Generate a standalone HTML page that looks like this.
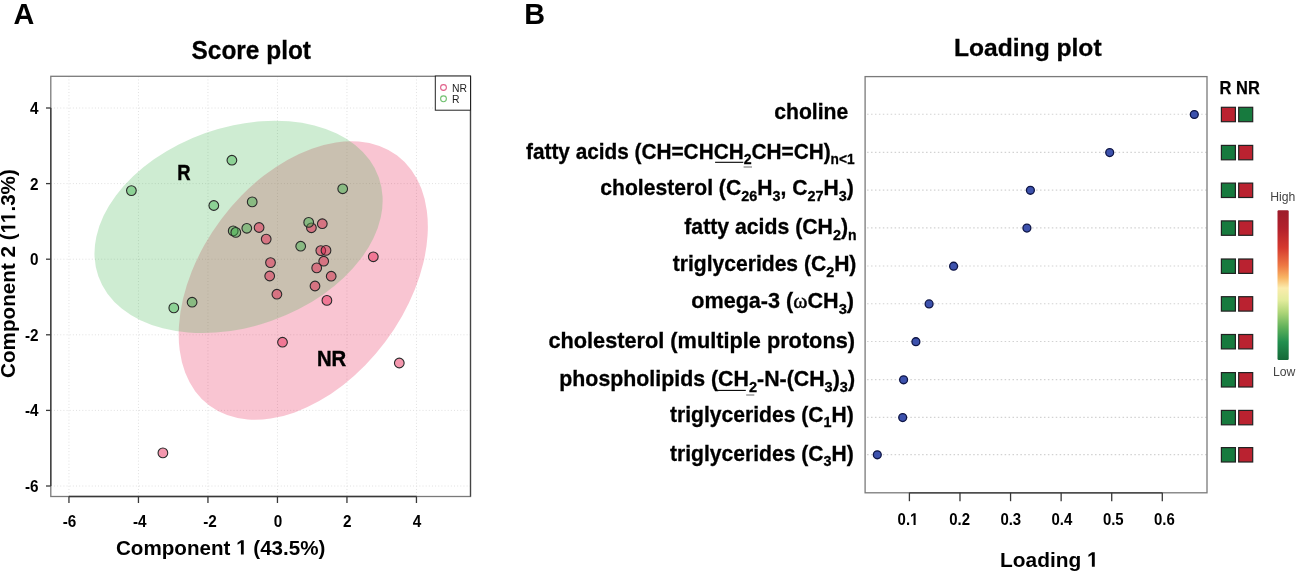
<!DOCTYPE html>
<html><head><meta charset="utf-8"><style>
html,body{margin:0;padding:0;background:#fff;width:1299px;height:572px;overflow:hidden;}
svg{display:block;font-family:"Liberation Sans",sans-serif;will-change:transform;}
</style></head><body>
<svg width="1299" height="572" viewBox="0 0 1299 572"><rect width="1299" height="572" fill="#fff"/>
<line x1="68.95" y1="76.3" x2="68.95" y2="496.5" stroke="#e0e0e0" stroke-width="1" stroke-dasharray="1 2.15"/>
<line x1="50.8" y1="486.00" x2="470.5" y2="486.00" stroke="#e0e0e0" stroke-width="1" stroke-dasharray="1 2.15"/>
<line x1="138.45" y1="76.3" x2="138.45" y2="496.5" stroke="#e0e0e0" stroke-width="1" stroke-dasharray="1 2.15"/>
<line x1="50.8" y1="410.40" x2="470.5" y2="410.40" stroke="#e0e0e0" stroke-width="1" stroke-dasharray="1 2.15"/>
<line x1="207.95" y1="76.3" x2="207.95" y2="496.5" stroke="#e0e0e0" stroke-width="1" stroke-dasharray="1 2.15"/>
<line x1="50.8" y1="334.80" x2="470.5" y2="334.80" stroke="#e0e0e0" stroke-width="1" stroke-dasharray="1 2.15"/>
<line x1="277.45" y1="76.3" x2="277.45" y2="496.5" stroke="#e0e0e0" stroke-width="1" stroke-dasharray="1 2.15"/>
<line x1="50.8" y1="259.20" x2="470.5" y2="259.20" stroke="#e0e0e0" stroke-width="1" stroke-dasharray="1 2.15"/>
<line x1="346.95" y1="76.3" x2="346.95" y2="496.5" stroke="#e0e0e0" stroke-width="1" stroke-dasharray="1 2.15"/>
<line x1="50.8" y1="183.60" x2="470.5" y2="183.60" stroke="#e0e0e0" stroke-width="1" stroke-dasharray="1 2.15"/>
<line x1="416.45" y1="76.3" x2="416.45" y2="496.5" stroke="#e0e0e0" stroke-width="1" stroke-dasharray="1 2.15"/>
<line x1="50.8" y1="108.00" x2="470.5" y2="108.00" stroke="#e0e0e0" stroke-width="1" stroke-dasharray="1 2.15"/>
<ellipse cx="303.26" cy="280.51" rx="156.37" ry="102.37" transform="rotate(-53.08 303.26 280.51)" fill="rgba(230,25,75,0.25)"/>
<ellipse cx="238.57" cy="226.9" rx="148.69" ry="99.57" transform="rotate(-19.42 238.57 226.9)" fill="rgba(60,180,75,0.25)"/>
<text x="177.2" y="179.8" font-family="Liberation Sans" font-weight="bold" font-size="22" stroke="#000" stroke-width="0.4" textLength="13.3" lengthAdjust="spacingAndGlyphs">R</text>
<text x="316.9" y="365.7" font-family="Liberation Sans" font-weight="bold" font-size="22" stroke="#000" stroke-width="0.4" textLength="29.3" lengthAdjust="spacingAndGlyphs">NR</text>
<circle cx="259.1" cy="227.5" r="4.85" fill="rgba(230,25,75,0.45)" stroke="#2a2a2a" stroke-width="1.1"/>
<circle cx="266.2" cy="239.1" r="4.85" fill="rgba(230,25,75,0.45)" stroke="#2a2a2a" stroke-width="1.1"/>
<circle cx="311.4" cy="227.8" r="4.85" fill="rgba(230,25,75,0.45)" stroke="#2a2a2a" stroke-width="1.1"/>
<circle cx="322.3" cy="223.7" r="4.85" fill="rgba(230,25,75,0.45)" stroke="#2a2a2a" stroke-width="1.1"/>
<circle cx="320.8" cy="250.6" r="4.85" fill="rgba(230,25,75,0.45)" stroke="#2a2a2a" stroke-width="1.1"/>
<circle cx="326" cy="250.4" r="4.85" fill="rgba(230,25,75,0.45)" stroke="#2a2a2a" stroke-width="1.1"/>
<circle cx="270.5" cy="262.6" r="4.85" fill="rgba(230,25,75,0.45)" stroke="#2a2a2a" stroke-width="1.1"/>
<circle cx="323.7" cy="261.2" r="4.85" fill="rgba(230,25,75,0.45)" stroke="#2a2a2a" stroke-width="1.1"/>
<circle cx="316.7" cy="267.9" r="4.85" fill="rgba(230,25,75,0.45)" stroke="#2a2a2a" stroke-width="1.1"/>
<circle cx="269.7" cy="276" r="4.85" fill="rgba(230,25,75,0.45)" stroke="#2a2a2a" stroke-width="1.1"/>
<circle cx="331.2" cy="276.2" r="4.85" fill="rgba(230,25,75,0.45)" stroke="#2a2a2a" stroke-width="1.1"/>
<circle cx="315" cy="286" r="4.85" fill="rgba(230,25,75,0.45)" stroke="#2a2a2a" stroke-width="1.1"/>
<circle cx="276.9" cy="294.2" r="4.85" fill="rgba(230,25,75,0.45)" stroke="#2a2a2a" stroke-width="1.1"/>
<circle cx="326.9" cy="300.4" r="4.85" fill="rgba(230,25,75,0.45)" stroke="#2a2a2a" stroke-width="1.1"/>
<circle cx="373.3" cy="256.8" r="4.85" fill="rgba(230,25,75,0.45)" stroke="#2a2a2a" stroke-width="1.1"/>
<circle cx="282.5" cy="342.2" r="4.85" fill="rgba(230,25,75,0.45)" stroke="#2a2a2a" stroke-width="1.1"/>
<circle cx="399.3" cy="363" r="4.85" fill="rgba(230,25,75,0.45)" stroke="#2a2a2a" stroke-width="1.1"/>
<circle cx="162.9" cy="452.9" r="4.85" fill="rgba(230,25,75,0.45)" stroke="#2a2a2a" stroke-width="1.1"/>
<circle cx="131.4" cy="190.6" r="4.85" fill="rgba(60,180,75,0.45)" stroke="#2a2a2a" stroke-width="1.1"/>
<circle cx="231.9" cy="160.2" r="4.85" fill="rgba(60,180,75,0.45)" stroke="#2a2a2a" stroke-width="1.1"/>
<circle cx="213.8" cy="205.5" r="4.85" fill="rgba(60,180,75,0.45)" stroke="#2a2a2a" stroke-width="1.1"/>
<circle cx="252.2" cy="201.9" r="4.85" fill="rgba(60,180,75,0.45)" stroke="#2a2a2a" stroke-width="1.1"/>
<circle cx="233.2" cy="230.9" r="4.85" fill="rgba(60,180,75,0.45)" stroke="#2a2a2a" stroke-width="1.1"/>
<circle cx="235.8" cy="232.4" r="4.85" fill="rgba(60,180,75,0.45)" stroke="#2a2a2a" stroke-width="1.1"/>
<circle cx="246.8" cy="228.3" r="4.85" fill="rgba(60,180,75,0.45)" stroke="#2a2a2a" stroke-width="1.1"/>
<circle cx="308.7" cy="222.4" r="4.85" fill="rgba(60,180,75,0.45)" stroke="#2a2a2a" stroke-width="1.1"/>
<circle cx="300.7" cy="246.2" r="4.85" fill="rgba(60,180,75,0.45)" stroke="#2a2a2a" stroke-width="1.1"/>
<circle cx="342.7" cy="188.8" r="4.85" fill="rgba(60,180,75,0.45)" stroke="#2a2a2a" stroke-width="1.1"/>
<circle cx="173.8" cy="307.9" r="4.85" fill="rgba(60,180,75,0.45)" stroke="#2a2a2a" stroke-width="1.1"/>
<circle cx="192.1" cy="302.2" r="4.85" fill="rgba(60,180,75,0.45)" stroke="#2a2a2a" stroke-width="1.1"/>
<rect x="50.8" y="76.3" width="419.70" height="420.20" fill="none" stroke="#7a7a7a" stroke-width="1.3"/>
<line x1="470.5" y1="76.3" x2="470.5" y2="496.5" stroke="#444" stroke-width="1.2"/>
<line x1="68.95" y1="496.5" x2="416.45" y2="496.5" stroke="#383838" stroke-width="1.3"/>
<line x1="50.8" y1="486.00" x2="50.8" y2="108.00" stroke="#383838" stroke-width="1.3"/>
<line x1="68.95" y1="496.5" x2="68.95" y2="503" stroke="#383838" stroke-width="1.3"/>
<line x1="46" y1="486.00" x2="50.8" y2="486.00" stroke="#383838" stroke-width="1.3"/>
<text transform="translate(69.45,526.6) scale(0.9,1)" text-anchor="middle" font-family="Liberation Sans" font-weight="bold" font-size="17">-6</text>
<text transform="translate(38.5,492.00) scale(0.9,1)" text-anchor="end" font-family="Liberation Sans" font-weight="bold" font-size="17">-6</text>
<line x1="138.45" y1="496.5" x2="138.45" y2="503" stroke="#383838" stroke-width="1.3"/>
<line x1="46" y1="410.40" x2="50.8" y2="410.40" stroke="#383838" stroke-width="1.3"/>
<text transform="translate(139.75,526.6) scale(0.9,1)" text-anchor="middle" font-family="Liberation Sans" font-weight="bold" font-size="17">-4</text>
<text transform="translate(38.5,416.40) scale(0.9,1)" text-anchor="end" font-family="Liberation Sans" font-weight="bold" font-size="17">-4</text>
<line x1="207.95" y1="496.5" x2="207.95" y2="503" stroke="#383838" stroke-width="1.3"/>
<line x1="46" y1="334.80" x2="50.8" y2="334.80" stroke="#383838" stroke-width="1.3"/>
<text transform="translate(210.05,526.6) scale(0.9,1)" text-anchor="middle" font-family="Liberation Sans" font-weight="bold" font-size="17">-2</text>
<text transform="translate(38.5,340.80) scale(0.9,1)" text-anchor="end" font-family="Liberation Sans" font-weight="bold" font-size="17">-2</text>
<line x1="277.45" y1="496.5" x2="277.45" y2="503" stroke="#383838" stroke-width="1.3"/>
<line x1="46" y1="259.20" x2="50.8" y2="259.20" stroke="#383838" stroke-width="1.3"/>
<text transform="translate(277.95,526.6) scale(0.9,1)" text-anchor="middle" font-family="Liberation Sans" font-weight="bold" font-size="17">0</text>
<text transform="translate(38.5,265.20) scale(0.9,1)" text-anchor="end" font-family="Liberation Sans" font-weight="bold" font-size="17">0</text>
<line x1="346.95" y1="496.5" x2="346.95" y2="503" stroke="#383838" stroke-width="1.3"/>
<line x1="46" y1="183.60" x2="50.8" y2="183.60" stroke="#383838" stroke-width="1.3"/>
<text transform="translate(347.30,526.6) scale(0.9,1)" text-anchor="middle" font-family="Liberation Sans" font-weight="bold" font-size="17">2</text>
<text transform="translate(38.5,189.60) scale(0.9,1)" text-anchor="end" font-family="Liberation Sans" font-weight="bold" font-size="17">2</text>
<line x1="416.45" y1="496.5" x2="416.45" y2="503" stroke="#383838" stroke-width="1.3"/>
<line x1="46" y1="108.00" x2="50.8" y2="108.00" stroke="#383838" stroke-width="1.3"/>
<text transform="translate(416.95,526.6) scale(0.9,1)" text-anchor="middle" font-family="Liberation Sans" font-weight="bold" font-size="17">4</text>
<text transform="translate(38.5,114.00) scale(0.9,1)" text-anchor="end" font-family="Liberation Sans" font-weight="bold" font-size="17">4</text>
<rect x="435.3" y="76" width="35.2" height="34.2" fill="#fff" stroke="#222" stroke-width="1"/>
<circle cx="443.5" cy="87.5" r="2.9" fill="none" stroke="#e0608a" stroke-width="1.1"/>
<circle cx="443.5" cy="98.8" r="2.9" fill="none" stroke="#70c070" stroke-width="1.1"/>
<text x="452" y="91.6" font-family="Liberation Sans" font-size="10.4" fill="#222">NR</text>
<text x="452" y="102.9" font-family="Liberation Sans" font-size="10.4" fill="#222">R</text>
<text x="13.6" y="24" font-family="Liberation Sans" font-weight="bold" font-size="28.8">A</text>
<text x="524.3" y="24" font-family="Liberation Sans" font-weight="bold" font-size="28.8">B</text>
<text x="191.5" y="59.1" font-family="Liberation Sans" font-weight="bold" font-size="25.5" stroke="#000" stroke-width="0.3" textLength="119.5" lengthAdjust="spacingAndGlyphs">Score plot</text>
<text x="954" y="55.5" font-family="Liberation Sans" font-weight="bold" font-size="24.6" stroke="#000" stroke-width="0.3" textLength="147.6" lengthAdjust="spacingAndGlyphs">Loading plot</text>
<g><text id="xlab" x="116" y="554.5" text-anchor="start" font-family="Liberation Sans" font-weight="bold" font-size="20.6">Component 1 (43.5%)</text><rect x="236.21" y="539.53" width="11.99" height="15.97" fill="#fff"/><path d="M240.92,554.50 L243.74,554.50 L243.74,540.33 L241.07,540.33 L237.52,542.63 L237.52,544.85 L240.92,542.73 Z" fill="#000"/></g>
<g transform="translate(15.3,377.9) rotate(-90)"><text id="ylab" x="0" y="0" text-anchor="start" font-family="Liberation Sans" font-weight="bold" font-size="20.65">Component 2 (11.3%)</text><rect x="144.57" y="-15.01" width="12.01" height="16.01" fill="#fff"/><path d="M149.29,0.00 L152.12,0.00 L152.12,-14.21 L149.44,-14.21 L145.88,-11.90 L145.88,-9.67 L149.29,-11.80 Z" fill="#000"/><rect x="154.91" y="-15.01" width="12.01" height="16.01" fill="#fff"/><path d="M159.63,0.00 L162.47,0.00 L162.47,-14.21 L159.78,-14.21 L156.22,-11.90 L156.22,-9.67 L159.63,-11.80 Z" fill="#000"/></g>
<line x1="867.1" y1="114.3" x2="1207.0" y2="114.3" stroke="#d2d2d2" stroke-width="1.1" stroke-dasharray="1.5 2.43"/>
<line x1="867.1" y1="152.4" x2="1207.0" y2="152.4" stroke="#d2d2d2" stroke-width="1.1" stroke-dasharray="1.5 2.43"/>
<line x1="867.1" y1="190.1" x2="1207.0" y2="190.1" stroke="#d2d2d2" stroke-width="1.1" stroke-dasharray="1.5 2.43"/>
<line x1="867.1" y1="227.9" x2="1207.0" y2="227.9" stroke="#d2d2d2" stroke-width="1.1" stroke-dasharray="1.5 2.43"/>
<line x1="867.1" y1="266.0" x2="1207.0" y2="266.0" stroke="#d2d2d2" stroke-width="1.1" stroke-dasharray="1.5 2.43"/>
<line x1="867.1" y1="303.7" x2="1207.0" y2="303.7" stroke="#d2d2d2" stroke-width="1.1" stroke-dasharray="1.5 2.43"/>
<line x1="867.1" y1="341.5" x2="1207.0" y2="341.5" stroke="#d2d2d2" stroke-width="1.1" stroke-dasharray="1.5 2.43"/>
<line x1="867.1" y1="379.6" x2="1207.0" y2="379.6" stroke="#d2d2d2" stroke-width="1.1" stroke-dasharray="1.5 2.43"/>
<line x1="867.1" y1="417.4" x2="1207.0" y2="417.4" stroke="#d2d2d2" stroke-width="1.1" stroke-dasharray="1.5 2.43"/>
<line x1="867.1" y1="454.6" x2="1207.0" y2="454.6" stroke="#d2d2d2" stroke-width="1.1" stroke-dasharray="1.5 2.43"/>
<rect x="865.1" y="76.6" width="341.90" height="416.20" fill="none" stroke="#7a7a7a" stroke-width="1.3"/>
<line x1="909.40" y1="492.8" x2="1162.30" y2="492.8" stroke="#383838" stroke-width="1.3"/>
<line x1="909.40" y1="492.8" x2="909.40" y2="501.2" stroke="#383838" stroke-width="1.3"/>
<g transform="translate(908.00,524.9) scale(0.88,1)"><text id="lt1" x="0" y="0" text-anchor="middle" font-family="Liberation Sans" font-weight="bold" font-size="17">0.1</text><rect x="2.23" y="-12.50" width="10.31" height="13.50" fill="#fff"/><path d="M6.32,0.00 L8.66,0.00 L8.66,-11.70 L6.45,-11.70 L3.52,-9.79 L3.52,-7.96 L6.32,-9.71 Z" fill="#000"/></g>
<line x1="959.98" y1="492.8" x2="959.98" y2="501.2" stroke="#383838" stroke-width="1.3"/>
<g transform="translate(959.60,524.9) scale(0.88,1)"><text id="lt2" x="0" y="0" text-anchor="middle" font-family="Liberation Sans" font-weight="bold" font-size="17">0.2</text></g>
<line x1="1010.56" y1="492.8" x2="1010.56" y2="501.2" stroke="#383838" stroke-width="1.3"/>
<g transform="translate(1010.80,524.9) scale(0.88,1)"><text id="lt3" x="0" y="0" text-anchor="middle" font-family="Liberation Sans" font-weight="bold" font-size="17">0.3</text></g>
<line x1="1061.14" y1="492.8" x2="1061.14" y2="501.2" stroke="#383838" stroke-width="1.3"/>
<g transform="translate(1061.90,524.9) scale(0.88,1)"><text id="lt4" x="0" y="0" text-anchor="middle" font-family="Liberation Sans" font-weight="bold" font-size="17">0.4</text></g>
<line x1="1111.72" y1="492.8" x2="1111.72" y2="501.2" stroke="#383838" stroke-width="1.3"/>
<g transform="translate(1113.30,524.9) scale(0.88,1)"><text id="lt5" x="0" y="0" text-anchor="middle" font-family="Liberation Sans" font-weight="bold" font-size="17">0.5</text></g>
<line x1="1162.30" y1="492.8" x2="1162.30" y2="501.2" stroke="#383838" stroke-width="1.3"/>
<g transform="translate(1164.40,524.9) scale(0.88,1)"><text id="lt6" x="0" y="0" text-anchor="middle" font-family="Liberation Sans" font-weight="bold" font-size="17">0.6</text></g>
<circle cx="1194.3" cy="114.5" r="3.95" fill="#3d52ad" stroke="#0e1545" stroke-width="1.3"/>
<circle cx="1109.7" cy="152.6" r="3.95" fill="#3d52ad" stroke="#0e1545" stroke-width="1.3"/>
<circle cx="1030.4" cy="190.3" r="3.95" fill="#3d52ad" stroke="#0e1545" stroke-width="1.3"/>
<circle cx="1026.9" cy="228.1" r="3.95" fill="#3d52ad" stroke="#0e1545" stroke-width="1.3"/>
<circle cx="953.6" cy="266.2" r="3.95" fill="#3d52ad" stroke="#0e1545" stroke-width="1.3"/>
<circle cx="929.1" cy="303.9" r="3.95" fill="#3d52ad" stroke="#0e1545" stroke-width="1.3"/>
<circle cx="915.9" cy="341.7" r="3.95" fill="#3d52ad" stroke="#0e1545" stroke-width="1.3"/>
<circle cx="903.6" cy="379.8" r="3.95" fill="#3d52ad" stroke="#0e1545" stroke-width="1.3"/>
<circle cx="902.7" cy="417.6" r="3.95" fill="#3d52ad" stroke="#0e1545" stroke-width="1.3"/>
<circle cx="877.3" cy="454.8" r="3.95" fill="#3d52ad" stroke="#0e1545" stroke-width="1.3"/>
<g><text id="load1" x="1000.0" y="566.7" text-anchor="start" font-family="Liberation Sans" font-weight="bold" font-size="20.9">Loading 1</text><rect x="1087.13" y="551.52" width="12.13" height="16.18" fill="#fff"/><path d="M1091.89,566.70 L1094.76,566.70 L1094.76,552.32 L1092.05,552.32 L1088.44,554.66 L1088.44,556.91 L1091.89,554.76 Z" fill="#000"/></g>
<text x="774.2" y="119.3" font-family="Liberation Sans" font-weight="bold" font-size="22" stroke="#000" stroke-width="0.3" textLength="74.1" lengthAdjust="spacingAndGlyphs">choline</text>
<text x="526.0" y="158.6" font-family="Liberation Sans" font-weight="bold" font-size="22" stroke="#000" stroke-width="0.3" textLength="328.6" lengthAdjust="spacingAndGlyphs">fatty acids (CH=CHCH<tspan dy="5.6" font-size="15">2</tspan><tspan dy="-5.6">CH=CH)<tspan dy="5" font-size="14.5">n&lt;1</tspan></text>
<text x="600.3" y="195.4" font-family="Liberation Sans" font-weight="bold" font-size="22" stroke="#000" stroke-width="0.3" textLength="253.5" lengthAdjust="spacingAndGlyphs">cholesterol (C<tspan dy="5.6" font-size="15">26</tspan><tspan dy="-5.6">H<tspan dy="5.6" font-size="15">3</tspan><tspan dy="-5.6">, C<tspan dy="5.6" font-size="15">27</tspan><tspan dy="-5.6">H<tspan dy="5.6" font-size="15">3</tspan><tspan dy="-5.6">)</text>
<text x="684.3" y="234.2" font-family="Liberation Sans" font-weight="bold" font-size="22" stroke="#000" stroke-width="0.3" textLength="172.3" lengthAdjust="spacingAndGlyphs">fatty acids (CH<tspan dy="5.6" font-size="15">2</tspan><tspan dy="-5.6">)<tspan dy="5.6" font-size="14.5">n</tspan></text>
<text x="672.8" y="271.0" font-family="Liberation Sans" font-weight="bold" font-size="22" stroke="#000" stroke-width="0.3" textLength="183.6" lengthAdjust="spacingAndGlyphs">triglycerides (C<tspan dy="5.6" font-size="15">2</tspan><tspan dy="-5.6">H)</text>
<text x="691.3" y="308.2" font-family="Liberation Sans" font-weight="bold" font-size="22" stroke="#000" stroke-width="0.3" textLength="162.7" lengthAdjust="spacingAndGlyphs">omega-3 (<tspan font-family="Liberation Serif" font-weight="normal" stroke-width="0.5">ω</tspan>CH<tspan dy="5.6" font-size="15">3</tspan><tspan dy="-5.6">)</text>
<text x="548.4" y="347.9" font-family="Liberation Sans" font-weight="bold" font-size="22" stroke="#000" stroke-width="0.3" textLength="306.6" lengthAdjust="spacingAndGlyphs">cholesterol (multiple protons)</text>
<text x="559.3" y="386.0" font-family="Liberation Sans" font-weight="bold" font-size="22" stroke="#000" stroke-width="0.3" textLength="295.7" lengthAdjust="spacingAndGlyphs">phospholipids (CH<tspan dy="5.6" font-size="15">2</tspan><tspan dy="-5.6">-N-(CH<tspan dy="5.6" font-size="15">3</tspan><tspan dy="-5.6">)<tspan dy="5.6" font-size="15">3</tspan><tspan dy="-5.6">)</text>
<text x="670.0" y="421.7" font-family="Liberation Sans" font-weight="bold" font-size="22" stroke="#000" stroke-width="0.3" textLength="183.7" lengthAdjust="spacingAndGlyphs">triglycerides (C<tspan dy="5.6" font-size="15">1</tspan><tspan dy="-5.6">H)</text>
<text x="670.0" y="460.5" font-family="Liberation Sans" font-weight="bold" font-size="22" stroke="#000" stroke-width="0.3" textLength="183.7" lengthAdjust="spacingAndGlyphs">triglycerides (C<tspan dy="5.6" font-size="15">3</tspan><tspan dy="-5.6">H)</text>
<line x1="715.1" y1="162.3" x2="743.3" y2="162.3" stroke="#000" stroke-width="1.1"/>
<line x1="743.6" y1="167" x2="752" y2="167" stroke="#777" stroke-width="1.1"/>
<line x1="717.3" y1="390.4" x2="745.8" y2="390.4" stroke="#000" stroke-width="1.1"/>
<line x1="746.2" y1="395" x2="754.3" y2="395" stroke="#777" stroke-width="1.1"/>
<text x="1219.6" y="94.0" font-family="Liberation Sans" font-weight="bold" font-size="17.8" stroke="#000" stroke-width="0.25" textLength="40.2" lengthAdjust="spacingAndGlyphs">R NR</text>
<rect x="1221.4" y="107.3" width="14" height="14.4" fill="#ba2230" stroke="#222" stroke-width="1.2"/>
<rect x="1238.7" y="107.3" width="14" height="14.4" fill="#177a3e" stroke="#222" stroke-width="1.2"/>
<rect x="1221.4" y="145.4" width="14" height="14.4" fill="#177a3e" stroke="#222" stroke-width="1.2"/>
<rect x="1238.7" y="145.4" width="14" height="14.4" fill="#ba2230" stroke="#222" stroke-width="1.2"/>
<rect x="1221.4" y="183.1" width="14" height="14.4" fill="#177a3e" stroke="#222" stroke-width="1.2"/>
<rect x="1238.7" y="183.1" width="14" height="14.4" fill="#ba2230" stroke="#222" stroke-width="1.2"/>
<rect x="1221.4" y="220.9" width="14" height="14.4" fill="#177a3e" stroke="#222" stroke-width="1.2"/>
<rect x="1238.7" y="220.9" width="14" height="14.4" fill="#ba2230" stroke="#222" stroke-width="1.2"/>
<rect x="1221.4" y="259.0" width="14" height="14.4" fill="#177a3e" stroke="#222" stroke-width="1.2"/>
<rect x="1238.7" y="259.0" width="14" height="14.4" fill="#ba2230" stroke="#222" stroke-width="1.2"/>
<rect x="1221.4" y="296.7" width="14" height="14.4" fill="#177a3e" stroke="#222" stroke-width="1.2"/>
<rect x="1238.7" y="296.7" width="14" height="14.4" fill="#ba2230" stroke="#222" stroke-width="1.2"/>
<rect x="1221.4" y="334.5" width="14" height="14.4" fill="#177a3e" stroke="#222" stroke-width="1.2"/>
<rect x="1238.7" y="334.5" width="14" height="14.4" fill="#ba2230" stroke="#222" stroke-width="1.2"/>
<rect x="1221.4" y="372.6" width="14" height="14.4" fill="#177a3e" stroke="#222" stroke-width="1.2"/>
<rect x="1238.7" y="372.6" width="14" height="14.4" fill="#ba2230" stroke="#222" stroke-width="1.2"/>
<rect x="1221.4" y="410.4" width="14" height="14.4" fill="#177a3e" stroke="#222" stroke-width="1.2"/>
<rect x="1238.7" y="410.4" width="14" height="14.4" fill="#ba2230" stroke="#222" stroke-width="1.2"/>
<rect x="1221.4" y="447.6" width="14" height="14.4" fill="#177a3e" stroke="#222" stroke-width="1.2"/>
<rect x="1238.7" y="447.6" width="14" height="14.4" fill="#ba2230" stroke="#222" stroke-width="1.2"/>
<linearGradient id="cb" x1="0" y1="0" x2="0" y2="1"><stop offset="0" stop-color="#9c1b2a"/><stop offset="0.12" stop-color="#b2202c"/><stop offset="0.25" stop-color="#d5392f"/><stop offset="0.37" stop-color="#ee7944"/><stop offset="0.45" stop-color="#f8b564"/><stop offset="0.52" stop-color="#fbecad"/><stop offset="0.6" stop-color="#e3ec9d"/><stop offset="0.68" stop-color="#b0d679"/><stop offset="0.78" stop-color="#62b25b"/><stop offset="0.88" stop-color="#228f4f"/><stop offset="1" stop-color="#146938"/></linearGradient>
<rect x="1277.5" y="210.3" width="11.2" height="149.6" rx="1.2" fill="url(#cb)"/>
<text x="1270.3" y="200.7" font-family="Liberation Sans" font-size="12.2" fill="#444">High</text>
<text x="1273" y="376.3" font-family="Liberation Sans" font-size="12.2" fill="#444">Low</text></svg>
</body></html>
